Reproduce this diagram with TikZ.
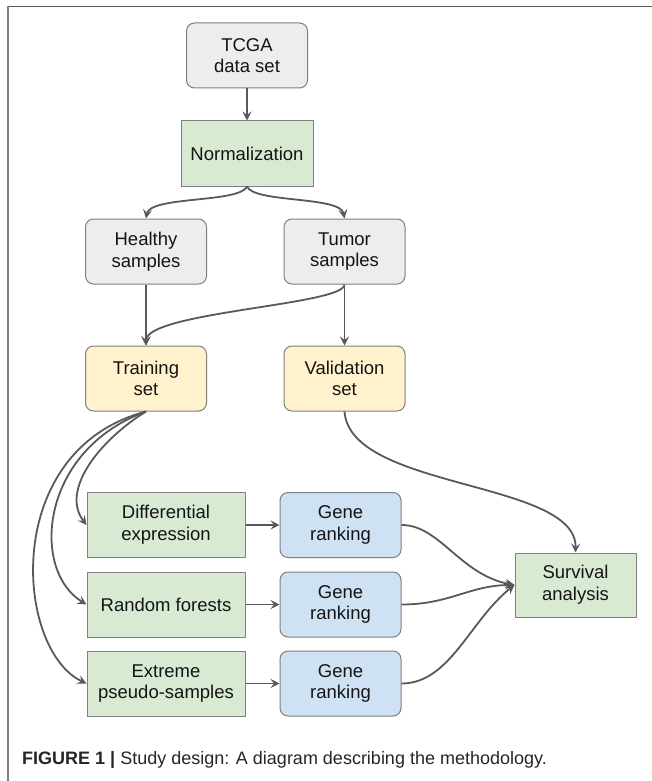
\documentclass[tikz,border=0pt]{standalone}
\usepackage{fontspec}
\setmainfont{Liberation Sans}
\usetikzlibrary{arrows.meta}
\definecolor{bordergray}{HTML}{7F7F7F}
\definecolor{fillgray}{HTML}{EDEDED}
\definecolor{fillgreen}{HTML}{D9EAD3}
\definecolor{fillyellow}{HTML}{FFF2CC}
\definecolor{fillblue}{HTML}{CFE2F3}
\definecolor{arrowgray}{HTML}{595959}
\definecolor{framegray}{HTML}{5A5A5A}
\tikzset{
  box/.style={draw=bordergray, line width=1pt, align=center, inner sep=0pt,
    font=\fontsize{18.5}{21.7}\selectfont, text=black!92},
  roundbox/.style={box, rounded corners=8pt, minimum width=121pt, minimum height=65pt},
  graybox/.style={roundbox, fill=fillgray},
  yellowbox/.style={roundbox, fill=fillyellow},
  bluebox/.style={roundbox, fill=fillblue},
  greenbox/.style={box, fill=fillgreen, minimum height=65pt},
  conn/.style={draw=arrowgray, line width=1.8pt, -{Stealth[length=9pt,width=9pt,inset=3.5pt]}},
}
\begin{document}
\begin{tikzpicture}[x=1pt,y=-1pt]
\useasboundingbox (0,0) rectangle (652,781);
\fill[white] (0,0) rectangle (652,781);
% frame
\draw[framegray, line width=1.5pt] (6.5,6.5) -- (652,6.5);
\draw[bordergray, line width=2pt] (7.5,5.8) -- (7.5,781);
% nodes
\node[graybox] (tcga) at (247,55.5) {TCGA\\data set};
\node[greenbox, minimum width=132pt] (norm) at (247,153.5) {Normalization};
\node[graybox] (healthy) at (146,251.5) {Healthy\\samples};
\node[graybox] (tumor) at (344.5,251.5) {Tumor\\samples};
\node[yellowbox] (train) at (146,378.5) {Training\\set};
\node[yellowbox] (valid) at (344.5,378.5) {Validation\\set};
\node[greenbox, minimum width=158pt] (diff) at (166,525) {Differential\\expression};
\node[greenbox, minimum width=158pt] (rf) at (166,604.5) {Random forests};
\node[greenbox, minimum width=158pt] (eps) at (166,683.5) {Extreme\\pseudo-samples};
\node[bluebox] (g1) at (340.5,525) {Gene\\ranking};
\node[bluebox] (g2) at (340.5,604.5) {Gene\\ranking};
\node[bluebox] (g3) at (340.5,683.5) {Gene\\ranking};
\node[greenbox, minimum width=121pt, minimum height=64pt] (surv) at (575.5,585) {Survival\\analysis};
\node[anchor=west, inner sep=0pt, font=\fontsize{18}{21}\selectfont, text=black!85] (cap) at (22,760)
  {\textbf{FIGURE 1 |} Study design: A diagram describing the methodology.};
% connectors
\draw[conn] (tcga.south) -- (norm.north);
\draw[conn] (norm.south) .. controls (240,203) and (150,196) .. (healthy.north);
\draw[conn] (norm.south) .. controls (254,203) and (340.5,196) .. (tumor.north);
\draw[conn] (healthy.south) -- (train.north);
\draw[conn] (tumor.south) .. controls (344.5,305) and (146,312) .. (train.north);
\draw[conn] (tumor.south) -- (valid.north);
\draw[conn] (valid.south) .. controls (350,490) and (577,480) .. (surv.north);
\draw[conn] (train.south) .. controls (100,440) and (60,490) .. (diff.west);
\draw[conn] (train.south) .. controls (40,450) and (30,570) .. (rf.west);
\draw[conn] (train.south) .. controls (0,450) and (15,650) .. (eps.west);
\draw[conn] (diff.east) -- (g1.west);
\draw[conn] (rf.east) -- (g2.west);
\draw[conn] (eps.east) -- (g3.west);
\draw[conn] (g1.east) .. controls (440,525) and (460,575) .. (surv.west);
\draw[conn] (g2.east) .. controls (450,604.5) and (470,585) .. (surv.west);
\draw[conn] (g3.east) .. controls (450,683.5) and (470,620) .. (surv.west);
\end{tikzpicture}
\end{document}
